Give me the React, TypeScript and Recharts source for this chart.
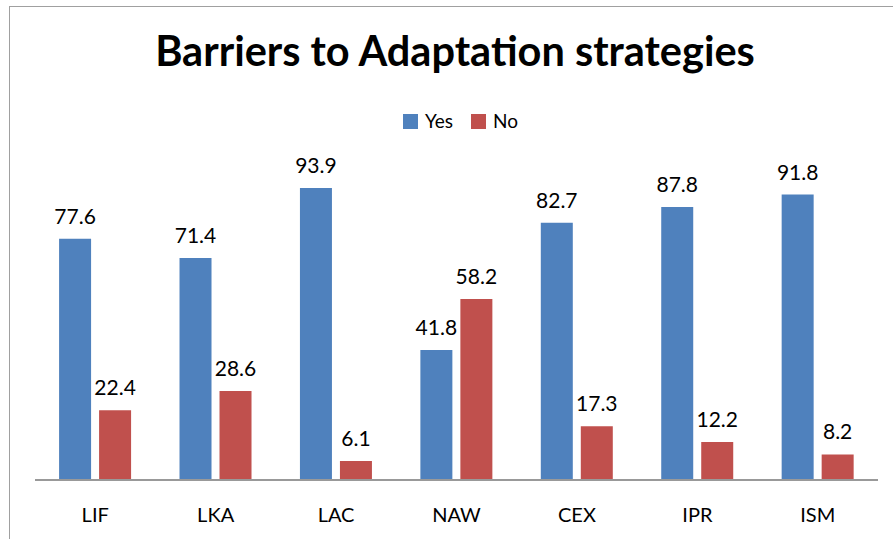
import React from "react";
import { BarChart, Bar, XAxis, YAxis, LabelList } from "recharts";

const categories = ["LIF", "LKA", "LAC", "NAW", "CEX", "IPR", "ISM"];
const yesValues = [77.6, 71.4, 93.9, 41.8, 82.7, 87.8, 91.8];
const noValues = [22.4, 28.6, 6.1, 58.2, 17.3, 12.2, 8.2];
const seriesNames = ["Yes", "No"];
const seriesColors = ["#4F81BD", "#C0504D"];

const data = categories.map((c, i) => ({ name: c, Yes: yesValues[i], No: noValues[i] }));

const FONT = "Lato, 'Liberation Sans', sans-serif";

export default function App() {
  return (
    <div style={{ position: "absolute", left: 0, top: 0, width: 893, height: 539, overflow: "hidden", background: "#fff", fontFamily: FONT }}>
      <div style={{ position: "absolute", left: 9, top: 6, width: 900, height: 600, border: "1.5px solid #a0a0a0" }} />
      <div style={{ position: "absolute", left: 0, top: 25, width: 910, textAlign: "center", fontSize: 41.5, fontWeight: 700, color: "#000", lineHeight: "50px" }}>
        Barriers to Adaptation strategies
      </div>
      <div style={{ position: "absolute", left: 403, top: 109, display: "flex", alignItems: "center", fontSize: 19, color: "#000", lineHeight: "24px" }}>
        {seriesNames.map((n, i) => (
          <div key={n} style={{ display: "flex", alignItems: "center", marginRight: 18 }}>
            <div style={{ width: 15, height: 15, background: seriesColors[i], marginRight: 7 }} />
            <span>{n}</span>
          </div>
        ))}
      </div>
      <BarChart
        width={893}
        height={539}
        data={data}
        margin={{ top: 169, right: 15, bottom: 29, left: 35 }}
        barCategoryGap="20%"
        barGap={8}
        style={{ position: "absolute", left: 0, top: 0 }}
      >
        <XAxis
          dataKey="name"
          axisLine={{ stroke: "#999", strokeWidth: 2 }}
          tickLine={false}
          tick={{ fill: "#000", fontSize: 20, fontFamily: FONT }}
          tickMargin={22}
        />
        <YAxis hide domain={[0, 100]} />
        <Bar dataKey="Yes" fill={seriesColors[0]} isAnimationActive={false}>
          <LabelList dataKey="Yes" position="top" offset={15} style={{ fill: "#000", fontSize: 21, fontFamily: FONT }} />
        </Bar>
        <Bar dataKey="No" fill={seriesColors[1]} isAnimationActive={false}>
          <LabelList dataKey="No" position="top" offset={15} style={{ fill: "#000", fontSize: 21, fontFamily: FONT }} />
        </Bar>
      </BarChart>
    </div>
  );
}
